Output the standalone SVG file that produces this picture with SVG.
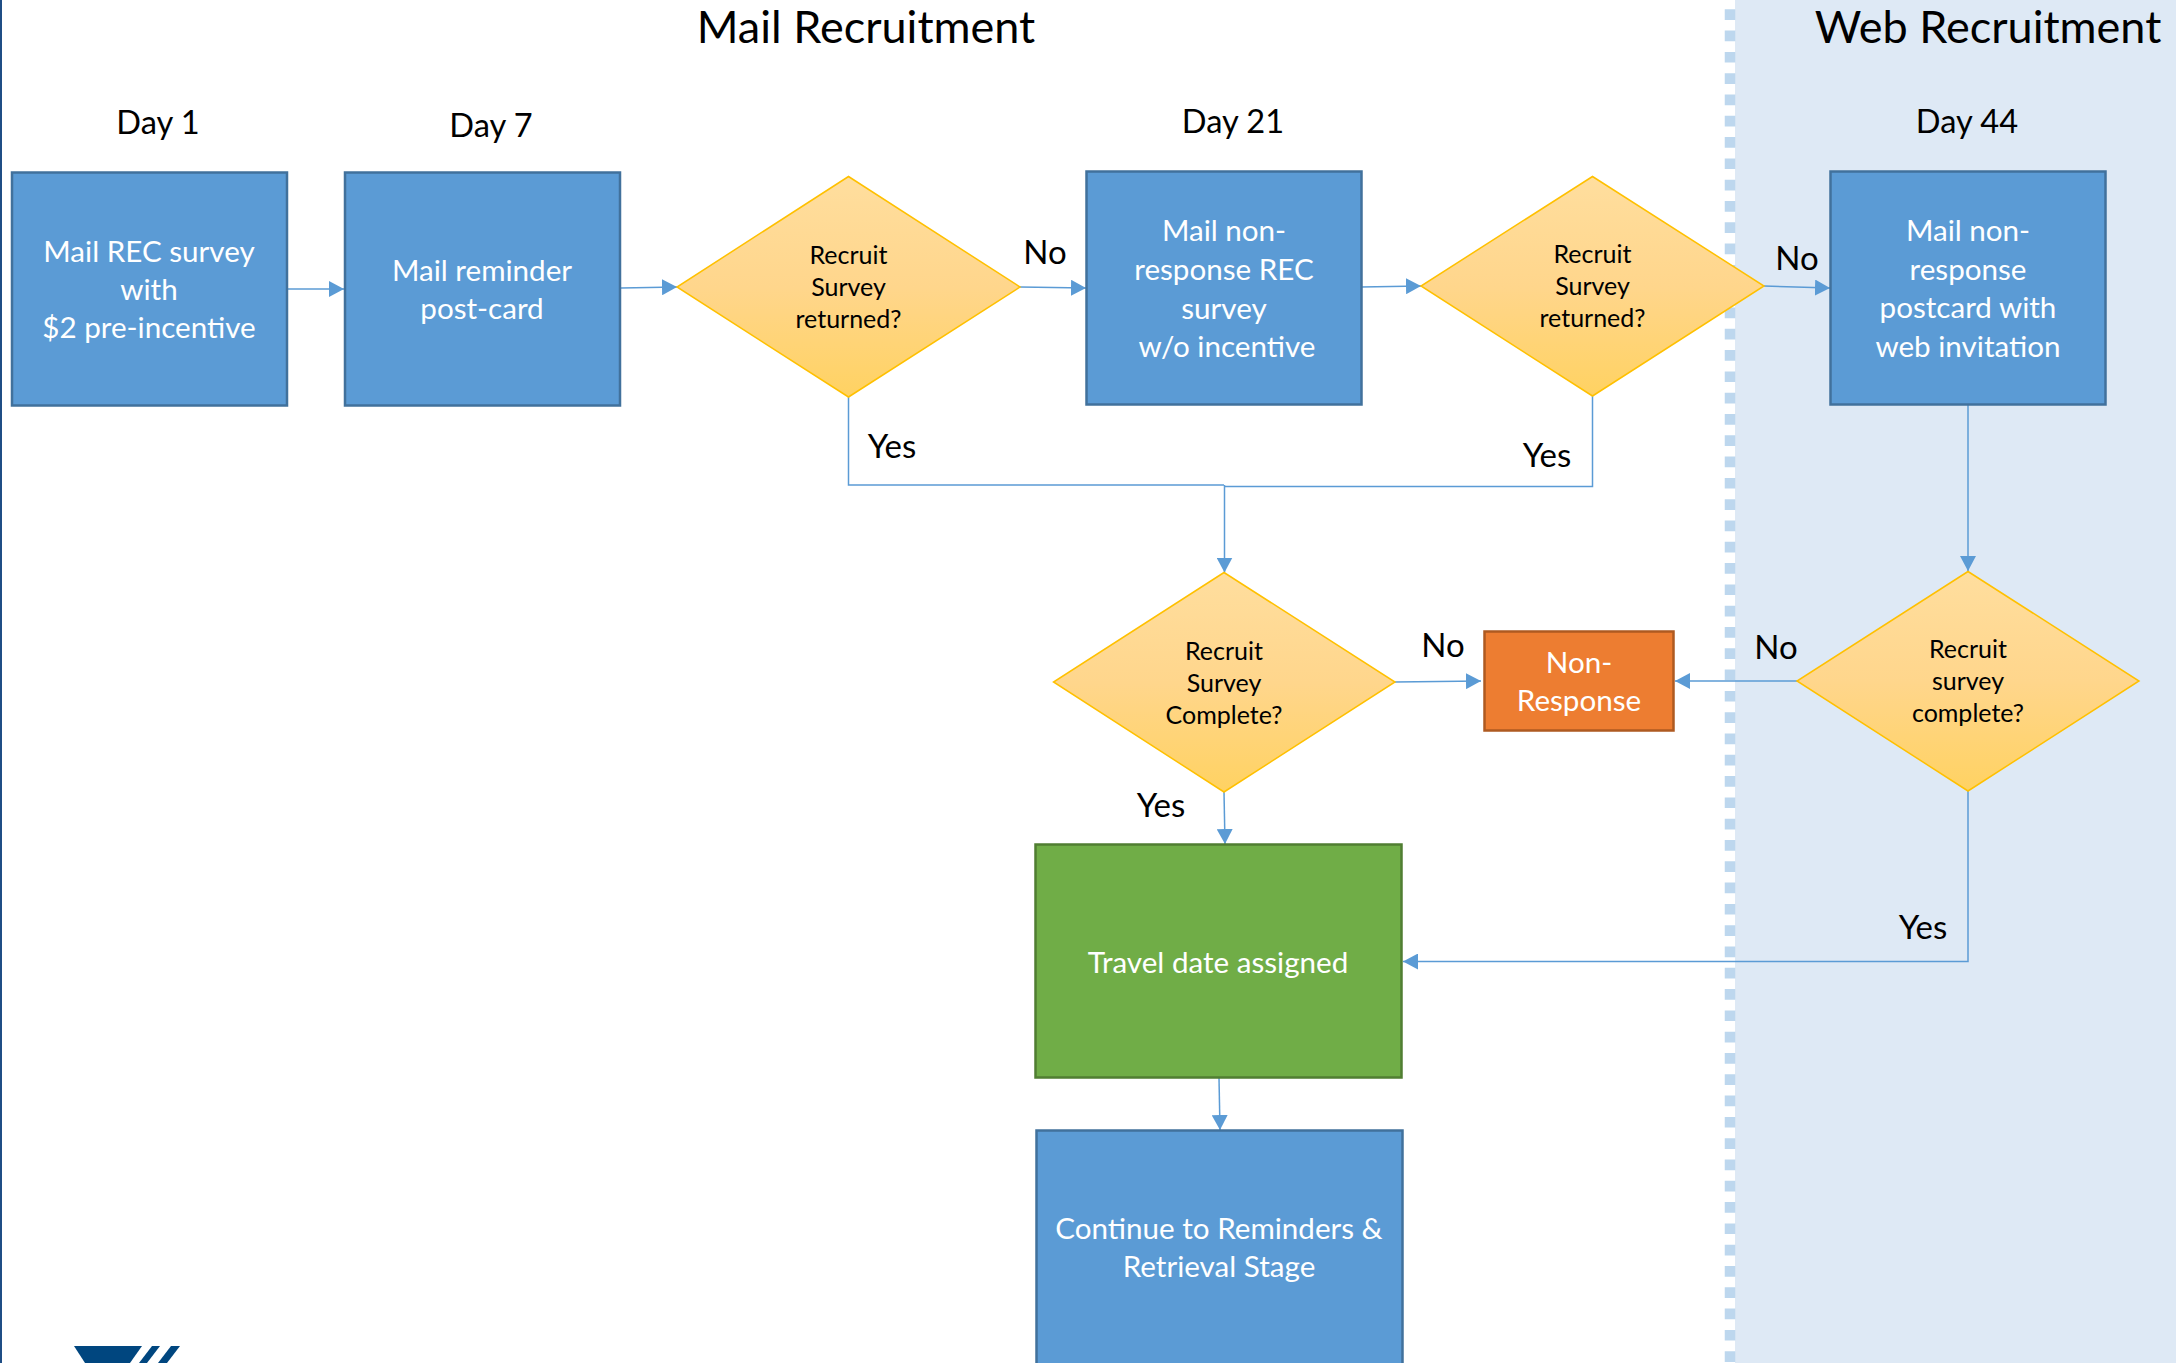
<svg xmlns="http://www.w3.org/2000/svg" width="2176" height="1363" viewBox="0 0 2176 1363">
<defs>
<marker id="arr" markerUnits="userSpaceOnUse" markerWidth="16" markerHeight="16" refX="15" refY="8" orient="auto"><path d="M0 0L15 8L0 16Z" fill="#5B9BD5"/></marker>
<linearGradient id="dg" x1="0" y1="0" x2="0" y2="1"><stop offset="0" stop-color="#FFDE9E"/><stop offset="0.5" stop-color="#FFD68C"/><stop offset="1" stop-color="#FFD262"/></linearGradient>
</defs>
<style>
text{font-family:Lato,"Liberation Sans",sans-serif;text-anchor:middle}
.h{font-size:45px;fill:#000}
.d{font-size:32.6px;fill:#000}
.l{font-size:33px;fill:#000}
.w{font-size:29.6px;fill:#fff}
.q{font-size:25px;fill:#000}
.b{fill:#5B9BD5;stroke:#41719C;stroke-width:2.5}
.g{fill:#70AD47;stroke:#507E32;stroke-width:2.5}
.o{fill:#ED7D31;stroke:#AE5A21;stroke-width:2.5}
.t{fill:url(#dg);stroke:#FFC000;stroke-width:1.5}
.c{fill:none;stroke:#5B9BD5;stroke-width:1.5}
.a{marker-end:url(#arr)}
</style>
<rect width="2176" height="1363" fill="#fff"/>
<rect x="1735" y="0" width="441" height="1363" fill="#DEE9F5"/>
<line x1="1730" y1="-12" x2="1730" y2="1363" stroke="#BDD7EE" stroke-width="10.5" stroke-dasharray="10.7 10.6"/>
<rect x="0" y="0" width="2" height="1363" fill="#1F4E85"/>
<g id="logo"><path d="M74 1346H142L130 1363H85Z" fill="#00467F"/><path d="M152 1346H160L147 1363H139Z" fill="#00467F"/><path d="M171 1346H180L167 1363H158Z" fill="#00467F"/></g>
<text class="h" x="866" y="43">Mail Recruitment</text>
<text class="h" x="1988" y="43">Web Recruitment</text>
<text class="d" x="158" y="134">Day 1</text>
<text class="d" x="491" y="137">Day 7</text>
<text class="d" x="1233" y="133">Day 21</text>
<text class="d" x="1967" y="133">Day 44</text>
<g id="connectors">
<path class="c a" d="M288 289H344"/>
<path class="c a" d="M621 288L677 287"/>
<path class="c a" d="M1020 287L1086 288"/>
<path class="c a" d="M1361 287L1421 286"/>
<path class="c a" d="M1764 286L1830 288"/>
<path class="c" d="M848.500 397V485H1224"/>
<path class="c" d="M1592.500 396V486.500H1224"/>
<path class="c a" d="M1224.500 485V572.500"/>
<path class="c a" d="M1968 405V571"/>
<path class="c a" d="M1395 682L1481 681"/>
<path class="c a" d="M1797 681H1675"/>
<path class="c a" d="M1224 792L1225 844"/>
<path class="c a" d="M1968 791V961.500H1403"/>
<path class="c a" d="M1219 1078L1220 1130"/>
</g>
<g id="n1"><rect class="b" x="12" y="172.500" width="275" height="233"/><text class="w" x="149" y="262">Mail REC survey</text><text class="w" x="149" y="300">with</text><text class="w" x="149" y="338">$2 pre-incentive</text></g>
<g id="n2"><rect class="b" x="345" y="172.500" width="275" height="233"/><text class="w" x="482" y="281">Mail reminder</text><text class="w" x="482" y="319">post-card</text></g>
<g id="n3"><path class="t" d="M848.500 176.500L1020 287L848.500 397L677 287Z"/><text class="q" x="848.500" y="264">Recruit</text><text class="q" x="848.500" y="296">Survey</text><text class="q" x="848.500" y="328">returned?</text></g>
<g id="n4"><rect class="b" x="1086.500" y="171.500" width="275" height="233"/><text class="w" x="1224" y="241">Mail non-</text><text class="w" x="1224" y="280">response REC</text><text class="w" x="1224" y="319">survey</text><text class="w" x="1227" y="357">w/o incentive</text></g>
<g id="n5"><path class="t" d="M1592.500 176.500L1764 286L1592.500 396L1421 286Z"/><text class="q" x="1592.500" y="263">Recruit</text><text class="q" x="1592.500" y="295">Survey</text><text class="q" x="1592.500" y="327">returned?</text></g>
<g id="n6"><rect class="b" x="1830.500" y="171.500" width="275" height="233"/><text class="w" x="1968" y="241">Mail non-</text><text class="w" x="1968" y="280">response</text><text class="w" x="1968" y="318">postcard with</text><text class="w" x="1968" y="357">web invitation</text></g>
<g id="n7"><path class="t" d="M1224 572.500L1395 682L1224 792L1053.500 682Z"/><text class="q" x="1224" y="660">Recruit</text><text class="q" x="1224" y="692">Survey</text><text class="q" x="1224" y="724">Complete?</text></g>
<g id="n8"><rect class="o" x="1484.500" y="631.500" width="189" height="99"/><text class="w" x="1579" y="673">Non-</text><text class="w" x="1579" y="711">Response</text></g>
<g id="n9"><path class="t" d="M1968 571.500L2139 681L1968 791L1797 681Z"/><text class="q" x="1968" y="658">Recruit</text><text class="q" x="1968" y="690">survey</text><text class="q" x="1968" y="722">complete?</text></g>
<g id="n10"><rect class="g" x="1035.500" y="844.500" width="366" height="233"/><text class="w" x="1218" y="973">Travel date assigned</text></g>
<g id="n11"><rect class="b" x="1036.500" y="1130.500" width="366" height="250"/><text class="w" x="1219" y="1239">Continue to Reminders &amp;</text><text class="w" x="1219" y="1277">Retrieval Stage</text></g>
<text class="l" x="1045" y="264">No</text>
<text class="l" x="1797" y="270">No</text>
<text class="l" x="1443" y="657">No</text>
<text class="l" x="1776" y="659">No</text>
<text class="l" x="892" y="458">Yes</text>
<text class="l" x="1547" y="467">Yes</text>
<text class="l" x="1161" y="817">Yes</text>
<text class="l" x="1923" y="939">Yes</text>
</svg>
